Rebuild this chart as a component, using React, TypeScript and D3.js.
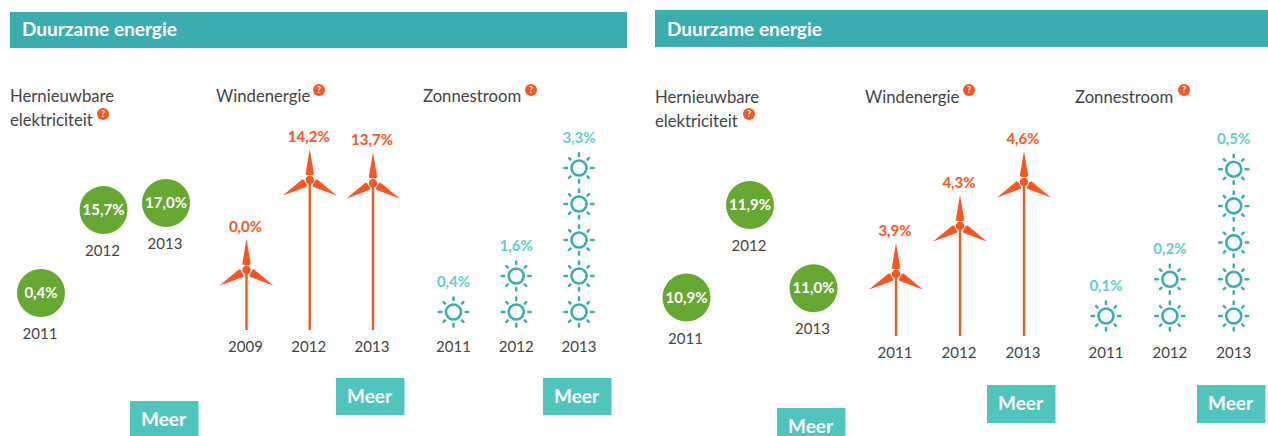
import React from "react";
import * as d3 from "d3";

// ---- data ----
const leftYearsRenewable = ["2011", "2012", "2013"];
const leftRenewable = [0.4, 15.7, 17.0];
const leftYearsWind = ["2009", "2012", "2013"];
const leftWind = [0.0, 14.2, 13.7];
const leftYearsSolar = ["2011", "2012", "2013"];
const leftSolar = [0.4, 1.6, 3.3];
const leftSolarIcons = [1, 2, 5];

const rightYearsRenewable = ["2011", "2012", "2013"];
const rightRenewable = [10.9, 11.9, 11.0];
const rightYearsWind = ["2011", "2012", "2013"];
const rightWind = [3.9, 4.3, 4.6];
const rightYearsSolar = ["2011", "2012", "2013"];
const rightSolar = [0.1, 0.2, 0.5];
const rightSolarIcons = [1, 2, 5];

const headerTitle = "Duurzame energie";
const buttonLabel = "Meer";

// ---- style ----
const FONT = "Lato, sans-serif";
const HEADER = "#39adaf";
const GREEN = "#67a832";
const ORANGE = "#fb5522";
const TEAL_LABEL = "#5fd0c8";
const TEAL_SUN = "#3aadb0";
const BUTTON = "#50c5bd";
const TEXT = "#444444";

const fmt = (v: number) => v.toFixed(1).replace(".", ",") + "%";

function Help({ x, y }: { x: number; y: number }) {
  return (
    <g>
      <circle cx={x} cy={y} r={6} fill={ORANGE} />
      <text x={x} y={y + 3} textAnchor="middle" fontFamily={FONT} fontSize={9} fontWeight={700} fill="#fff">?</text>
    </g>
  );
}

function Title({ x, y, lines, help }: { x: number; y: number; lines: string[]; help: [number, number] }) {
  return (
    <g>
      {lines.map((l, i) => (
        <text key={i} x={x} y={y + i * 24} fontFamily={FONT} fontSize={16.7} fill={TEXT}>{l}</text>
      ))}
      <Help x={help[0]} y={help[1]} />
    </g>
  );
}

function Button({ x, y, h }: { x: number; y: number; h: number }) {
  return (
    <g>
      <rect x={x} y={y} width={68.5} height={h} fill={BUTTON} />
      <text x={x + 33.5} y={y + 25} textAnchor="middle" fontFamily={FONT} fontSize={19} fontWeight={700} fill="#fff">{buttonLabel}</text>
    </g>
  );
}

function Circles({ years, values, xRange, domain, yRange }: { years: string[]; values: number[]; xRange: [number, number]; domain: [number, number]; yRange: [number, number] }) {
  const x = d3.scalePoint<string>().domain(years).range(xRange);
  const y = d3.scaleLinear().domain(domain).range(yRange);
  return (
    <g>
      {years.map((yr, i) => {
        const cx = x(yr)!;
        const cy = y(values[i]);
        return (
          <g key={yr}>
            <circle cx={cx} cy={cy} r={24} fill={GREEN} />
            <text x={cx} y={cy + 5} textAnchor="middle" fontFamily={FONT} fontSize={15} fontWeight={700} fill="#fff">{fmt(values[i])}</text>
            <text x={cx - 1} y={cy + 46} textAnchor="middle" fontFamily={FONT} fontSize={15} fill={TEXT}>{yr}</text>
          </g>
        );
      })}
    </g>
  );
}

const bladePath = d3.line()([[0, -31], [2.2, -18], [4.2, -6], [2.5, -5], [-2.5, -5], [-4.2, -6], [-2.2, -18]]) + "Z";

function Winds({ years, values, xRange, domain, yRange, base }: { years: string[]; values: number[]; xRange: [number, number]; domain: number[]; yRange: number[]; base: number }) {
  const x = d3.scalePoint<string>().domain(years).range(xRange);
  const y = d3.scaleLinear().domain(domain).range(yRange);
  return (
    <g>
      {years.map((yr, i) => {
        const cx = x(yr)!;
        const hub = y(values[i]);
        return (
          <g key={yr}>
            <line x1={cx} x2={cx} y1={hub} y2={base} stroke={ORANGE} strokeWidth={2.4} />
            <circle cx={cx} cy={hub} r={4.2} fill={ORANGE} />
            {[0, 120, 240].map((a) => (
              <path key={a} d={bladePath} fill={ORANGE} transform={`translate(${cx},${hub}) rotate(${a})`} />
            ))}
            <text x={cx - 1} y={hub - 38} textAnchor="middle" fontFamily={FONT} fontSize={15} fontWeight={700} fill={ORANGE}>{fmt(values[i])}</text>
            <text x={cx - 1} y={base + 22} textAnchor="middle" fontFamily={FONT} fontSize={15} fill={TEXT}>{yr}</text>
          </g>
        );
      })}
    </g>
  );
}

const rayAngles = d3.range(8).map((i) => (i * Math.PI) / 4);

function Sun({ cx, cy }: { cx: number; cy: number }) {
  return (
    <g>
      <circle cx={cx} cy={cy} r={7.5} fill="none" stroke={TEAL_SUN} strokeWidth={2.6} />
      {rayAngles.map((a, i) => {
        const r1 = i % 2 === 0 ? 12 : 12;
        const r2 = i % 2 === 0 ? 14.5 : 14;
        return (
          <line key={i} x1={cx + r1 * Math.cos(a)} y1={cy + r1 * Math.sin(a)} x2={cx + r2 * Math.cos(a)} y2={cy + r2 * Math.sin(a)} stroke={TEAL_SUN} strokeWidth={2.5} strokeLinecap="round" />
        );
      })}
    </g>
  );
}

function Suns({ years, values, icons, xRange, bottom, step, yearY }: { years: string[]; values: number[]; icons: number[]; xRange: [number, number]; bottom: number; step: number; yearY: number }) {
  const x = d3.scalePoint<string>().domain(years).range(xRange);
  const y = d3.scaleLinear().domain([0, 1]).range([bottom, bottom - step]);
  return (
    <g>
      {years.map((yr, i) => {
        const cx = x(yr)!;
        return (
          <g key={yr}>
            {d3.range(icons[i]).map((k) => <Sun key={k} cx={cx} cy={y(k)} />)}
            <text x={cx} y={y(icons[i] - 1) - 25} textAnchor="middle" fontFamily={FONT} fontSize={15} fontWeight={700} fill={TEAL_LABEL}>{fmt(values[i])}</text>
            <text x={cx} y={yearY} textAnchor="middle" fontFamily={FONT} fontSize={15} fill={TEXT}>{yr}</text>
          </g>
        );
      })}
    </g>
  );
}

export default function App() {
  return (
    <svg width={1268} height={436} viewBox="0 0 1268 436" style={{ position: "absolute", left: 0, top: 0, background: "#fff" }}>
      {/* left panel */}
      <rect x={10} y={12} width={617} height={36} fill={HEADER} />
      <text x={22} y={36} fontFamily={FONT} fontSize={19} fontWeight={700} fill="#fff">{headerTitle}</text>
      <Title x={10} y={102} lines={["Hernieuwbare", "elektriciteit"]} help={[103, 114]} />
      <Title x={216} y={102} lines={["Windenergie"]} help={[319, 90]} />
      <Title x={423} y={102} lines={["Zonnestroom"]} help={[531, 90]} />
      <Circles years={leftYearsRenewable} values={leftRenewable} xRange={[41, 166]} domain={[0.4, 17]} yRange={[293, 203]} />
      <Winds years={leftYearsWind} values={leftWind} xRange={[246.5, 373]} domain={[0, 14.2]} yRange={[270, 180]} base={330} />
      <Suns years={leftYearsSolar} values={leftSolar} icons={leftSolarIcons} xRange={[453.5, 579]} bottom={312} step={36} yearY={352} />
      <Button x={130} y={401} h={35} />
      <Button x={336} y={378} h={37} />
      <Button x={543} y={378} h={37} />

      {/* right panel */}
      <rect x={655} y={10} width={613} height={37} fill={HEADER} />
      <text x={667} y={35.5} fontFamily={FONT} fontSize={19} fontWeight={700} fill="#fff">{headerTitle}</text>
      <Title x={655} y={102.5} lines={["Hernieuwbare", "elektriciteit"]} help={[749, 114]} />
      <Title x={865} y={102.5} lines={["Windenergie"]} help={[969, 90]} />
      <Title x={1075} y={102.5} lines={["Zonnestroom"]} help={[1184, 90]} />
      <Circles years={rightYearsRenewable} values={rightRenewable} xRange={[686.5, 813.5]} domain={[10.9, 11.9]} yRange={[297.5, 205]} />
      <Winds years={rightYearsWind} values={rightWind} xRange={[896, 1024]} domain={[3.9, 4.3, 4.6]} yRange={[274, 226, 182]} base={336} />
      <Suns years={rightYearsSolar} values={rightSolar} icons={rightSolarIcons} xRange={[1106, 1233.7]} bottom={316} step={36.7} yearY={358} />
      <Button x={777} y={408} h={28} />
      <Button x={987} y={385} h={38} />
      <Button x={1197} y={385} h={38} />
    </svg>
  );
}
